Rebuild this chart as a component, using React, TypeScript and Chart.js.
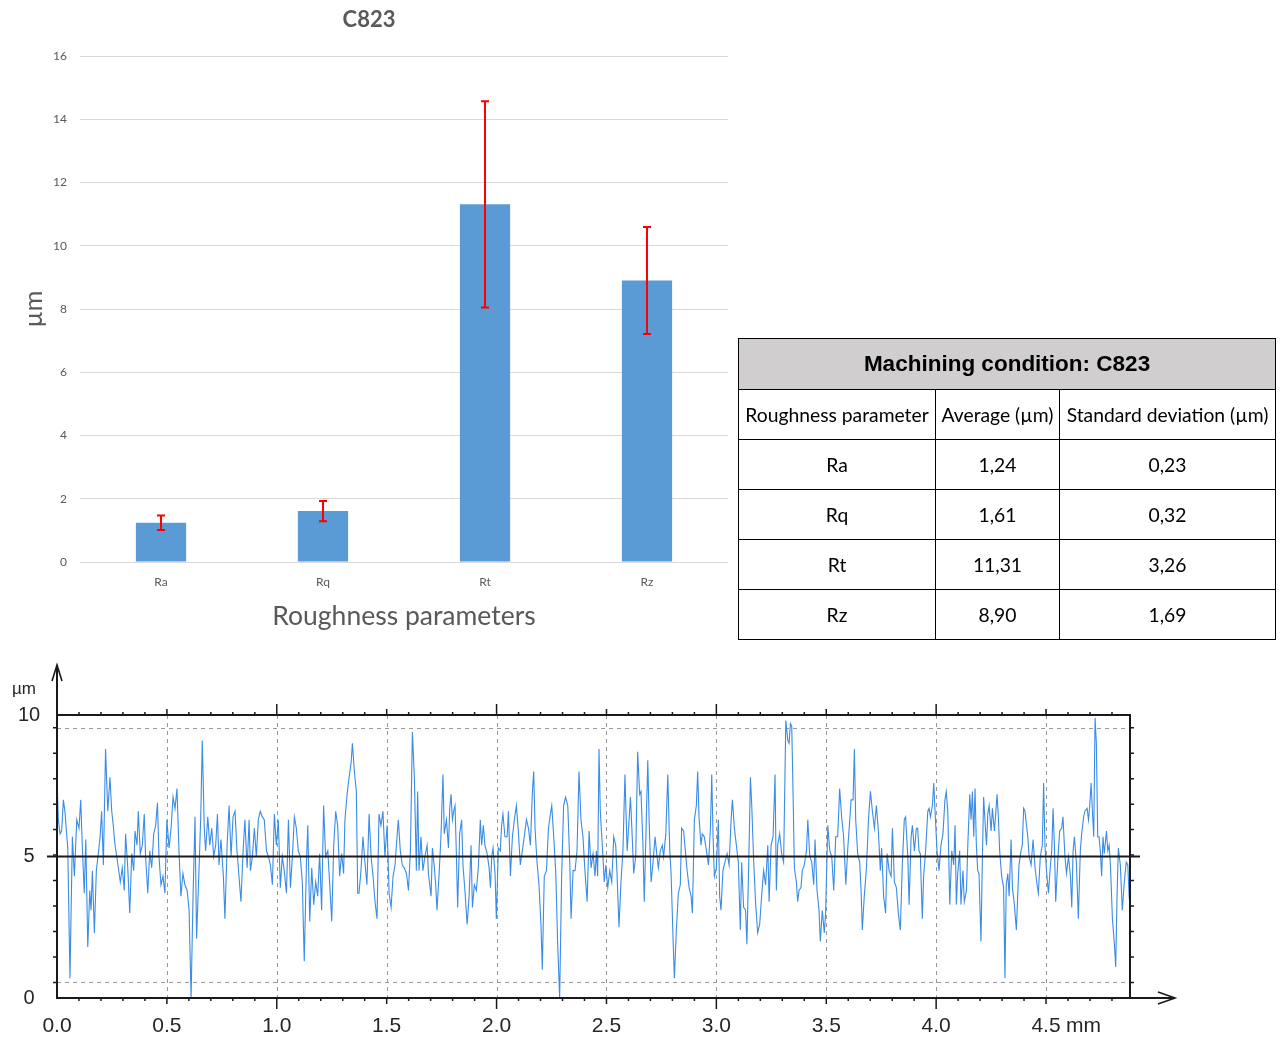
import React, { useEffect, useRef } from 'react';
import { Chart, registerables } from 'chart.js';

Chart.register(...registerables);

// Roughness summary for machining condition C823 (µm)
const conditionName = 'C823';
const parameters = ['Ra', 'Rq', 'Rt', 'Rz'];
const averages = [1.24, 1.61, 11.31, 8.9];
const deviations = [0.23, 0.32, 3.26, 1.69];
const barTicks = [0, 2, 4, 6, 8, 10, 12, 14, 16];

// Measured roughness profile: [position (mm), height (µm)]
const profileLength = 4.882;
const profileTicksX = [0, 0.5, 1.0, 1.5, 2.0, 2.5, 3.0, 3.5, 4.0, 4.5];
const profileTicksY = [0, 5, 10];
const profileMean = 5;
const profileBand = [0.55, 9.55];
const profilePoints: [number, number][] = [
  [0.0, 7.8], [0.006, 6.3], [0.014, 5.8], [0.021, 5.9], [0.029, 7.0], [0.036, 6.6], [0.049, 5.3], [0.059, 0.7],
  [0.07, 5.7], [0.079, 4.3], [0.09, 6.3], [0.1, 6.0], [0.108, 7.0], [0.115, 5.4], [0.124, 3.7], [0.131, 5.6],
  [0.14, 1.8], [0.149, 3.8], [0.155, 3.1], [0.161, 4.5], [0.17, 2.3], [0.179, 4.5], [0.188, 5.1], [0.196, 5.7],
  [0.203, 6.6], [0.211, 4.7], [0.221, 8.8], [0.231, 6.6], [0.241, 7.8], [0.249, 6.6], [0.256, 6.1], [0.264, 5.4],
  [0.272, 5.0], [0.279, 4.6], [0.288, 4.1], [0.297, 4.6], [0.306, 3.8], [0.312, 5.8], [0.322, 4.6], [0.331, 3.0],
  [0.34, 5.1], [0.349, 4.5], [0.355, 5.9], [0.364, 5.4], [0.37, 6.6], [0.379, 5.1], [0.388, 5.4], [0.397, 6.5],
  [0.403, 5.0], [0.413, 3.7], [0.422, 5.2], [0.431, 4.6], [0.44, 5.8], [0.449, 6.1], [0.457, 6.9], [0.464, 5.0],
  [0.473, 4.0], [0.482, 4.3], [0.491, 3.7], [0.5, 6.3], [0.51, 5.3], [0.519, 6.0], [0.528, 7.1], [0.537, 6.7],
  [0.546, 7.4], [0.555, 5.2], [0.564, 3.6], [0.573, 4.4], [0.582, 4.0], [0.592, 3.8], [0.601, 3.1], [0.61, 0.0],
  [0.619, 3.6], [0.628, 6.4], [0.635, 2.1], [0.646, 4.5], [0.654, 6.4], [0.661, 9.1], [0.67, 6.0], [0.676, 5.2],
  [0.686, 6.4], [0.695, 5.4], [0.704, 6.0], [0.713, 5.0], [0.722, 5.4], [0.73, 6.5], [0.737, 4.7], [0.746, 5.6],
  [0.757, 4.3], [0.764, 2.8], [0.774, 5.4], [0.783, 6.8], [0.792, 5.0], [0.801, 6.4], [0.81, 6.6], [0.818, 5.3],
  [0.828, 4.3], [0.837, 3.4], [0.846, 5.1], [0.855, 6.3], [0.865, 4.6], [0.874, 6.3], [0.88, 4.5], [0.889, 5.0],
  [0.898, 6.0], [0.907, 5.0], [0.916, 6.3], [0.925, 6.6], [0.934, 6.4], [0.943, 6.3], [0.953, 5.2], [0.962, 5.0],
  [0.971, 4.7], [0.98, 4.0], [0.989, 6.5], [0.998, 5.4], [1.007, 6.3], [1.016, 3.9], [1.025, 5.0], [1.034, 4.5],
  [1.044, 3.7], [1.053, 6.3], [1.062, 3.9], [1.071, 5.0], [1.08, 6.4], [1.089, 6.0], [1.098, 5.2], [1.107, 5.0],
  [1.116, 4.1], [1.125, 1.3], [1.135, 4.8], [1.141, 6.1], [1.15, 2.7], [1.159, 4.6], [1.168, 3.3], [1.177, 4.1],
  [1.186, 3.6], [1.195, 5.1], [1.204, 3.1], [1.213, 6.8], [1.222, 5.0], [1.232, 5.2], [1.241, 4.0], [1.25, 2.7],
  [1.259, 5.4], [1.268, 6.6], [1.277, 6.1], [1.286, 4.3], [1.295, 5.1], [1.304, 4.4], [1.31, 6.3], [1.32, 7.2],
  [1.329, 7.8], [1.338, 8.3], [1.344, 9.0], [1.353, 8.0], [1.362, 7.3], [1.368, 3.7], [1.374, 3.7], [1.383, 4.5],
  [1.392, 5.7], [1.401, 4.8], [1.41, 4.0], [1.42, 6.5], [1.429, 5.0], [1.438, 4.3], [1.447, 3.4], [1.456, 2.8],
  [1.465, 6.5], [1.474, 6.1], [1.483, 6.6], [1.492, 5.0], [1.502, 6.1], [1.511, 3.7], [1.52, 3.2], [1.529, 4.3],
  [1.538, 4.7], [1.547, 5.7], [1.553, 6.3], [1.562, 5.2], [1.571, 4.7], [1.58, 4.6], [1.59, 4.4], [1.599, 3.8],
  [1.608, 5.2], [1.617, 9.4], [1.626, 7.8], [1.635, 4.5], [1.641, 7.3], [1.647, 4.5], [1.656, 5.7], [1.665, 4.5],
  [1.674, 5.0], [1.684, 5.4], [1.69, 4.4], [1.696, 4.0], [1.702, 3.6], [1.708, 5.3], [1.717, 4.6], [1.723, 4.0],
  [1.729, 3.1], [1.738, 4.3], [1.747, 5.7], [1.756, 7.9], [1.762, 5.8], [1.772, 6.3], [1.781, 5.3], [1.787, 6.7],
  [1.793, 7.2], [1.799, 6.3], [1.805, 6.6], [1.811, 6.8], [1.817, 5.1], [1.823, 3.2], [1.832, 5.8], [1.841, 6.3],
  [1.847, 4.7], [1.856, 3.8], [1.866, 2.6], [1.875, 3.6], [1.884, 5.4], [1.89, 3.2], [1.899, 4.0], [1.908, 3.8],
  [1.917, 4.6], [1.926, 6.3], [1.932, 5.4], [1.94, 6.1], [1.947, 5.4], [1.957, 5.1], [1.966, 4.6], [1.972, 3.9],
  [1.978, 5.0], [1.984, 5.3], [1.993, 4.4], [1.999, 2.8], [2.008, 5.3], [2.017, 5.2], [2.023, 6.1], [2.029, 6.5],
  [2.038, 5.7], [2.048, 5.7], [2.054, 6.6], [2.063, 4.3], [2.072, 5.7], [2.081, 6.3], [2.09, 6.8], [2.099, 5.9],
  [2.108, 4.7], [2.117, 5.2], [2.126, 5.7], [2.136, 6.3], [2.145, 6.0], [2.154, 5.4], [2.163, 7.3], [2.169, 8.0],
  [2.175, 6.0], [2.184, 4.8], [2.193, 4.0], [2.202, 2.6], [2.208, 1.0], [2.217, 4.3], [2.227, 4.5], [2.236, 6.0],
  [2.245, 6.5], [2.251, 6.8], [2.26, 5.7], [2.269, 4.5], [2.278, 1.9], [2.287, 0.0], [2.296, 4.3], [2.305, 6.8],
  [2.314, 7.1], [2.324, 6.8], [2.333, 4.8], [2.339, 2.8], [2.348, 4.5], [2.357, 4.5], [2.366, 5.2], [2.375, 8.0],
  [2.384, 6.3], [2.393, 5.7], [2.402, 4.5], [2.412, 3.4], [2.421, 5.9], [2.43, 4.6], [2.439, 5.1], [2.448, 4.3],
  [2.454, 5.2], [2.46, 4.3], [2.466, 8.8], [2.472, 6.6], [2.481, 5.4], [2.49, 4.1], [2.497, 4.7], [2.506, 3.9],
  [2.515, 4.5], [2.524, 4.1], [2.533, 5.7], [2.542, 5.4], [2.548, 4.4], [2.557, 2.5], [2.566, 4.1], [2.575, 5.2],
  [2.584, 7.9], [2.594, 5.2], [2.6, 5.9], [2.609, 7.1], [2.615, 6.1], [2.624, 4.4], [2.633, 5.0], [2.642, 8.7],
  [2.651, 7.2], [2.657, 7.3], [2.666, 5.4], [2.672, 3.4], [2.678, 5.3], [2.688, 8.4], [2.694, 6.3], [2.703, 4.1],
  [2.712, 4.8], [2.721, 5.7], [2.73, 5.0], [2.736, 4.6], [2.745, 5.2], [2.754, 5.4], [2.76, 5.0], [2.77, 5.8],
  [2.779, 7.9], [2.788, 5.2], [2.794, 4.4], [2.803, 2.1], [2.809, 0.7], [2.818, 2.4], [2.827, 3.7], [2.836, 4.0],
  [2.842, 6.0], [2.851, 5.9], [2.86, 5.1], [2.867, 4.5], [2.876, 3.9], [2.885, 3.6], [2.891, 3.0], [2.9, 6.3],
  [2.909, 6.8], [2.915, 8.0], [2.921, 6.4], [2.93, 5.4], [2.936, 5.8], [2.945, 5.7], [2.955, 5.2], [2.964, 4.7],
  [2.973, 6.0], [2.979, 7.9], [2.985, 5.7], [2.991, 4.3], [3.0, 4.6], [3.009, 6.3], [3.015, 3.6], [3.021, 3.1],
  [3.03, 4.5], [3.039, 4.8], [3.049, 5.1], [3.058, 4.7], [3.067, 6.3], [3.073, 7.0], [3.082, 6.0], [3.091, 5.4],
  [3.1, 4.8], [3.109, 2.4], [3.115, 4.8], [3.124, 3.2], [3.133, 3.1], [3.139, 1.9], [3.149, 5.4], [3.155, 7.8],
  [3.161, 6.8], [3.17, 4.8], [3.179, 3.3], [3.188, 2.3], [3.197, 2.6], [3.206, 3.6], [3.215, 4.5], [3.224, 4.0],
  [3.234, 5.4], [3.24, 3.4], [3.249, 5.4], [3.258, 5.7], [3.267, 7.9], [3.273, 3.8], [3.279, 5.4], [3.288, 5.8],
  [3.297, 5.1], [3.306, 4.8], [3.316, 9.8], [3.325, 9.1], [3.331, 9.0], [3.337, 9.7], [3.343, 9.6], [3.349, 7.2],
  [3.355, 4.6], [3.364, 4.1], [3.37, 3.4], [3.376, 3.8], [3.385, 3.9], [3.391, 4.5], [3.4, 4.7], [3.41, 5.2],
  [3.416, 6.3], [3.425, 5.0], [3.434, 4.8], [3.443, 4.0], [3.449, 5.6], [3.458, 3.8], [3.467, 3.1], [3.473, 2.0],
  [3.482, 3.1], [3.491, 2.3], [3.497, 3.0], [3.507, 6.1], [3.516, 5.2], [3.525, 5.0], [3.534, 3.8], [3.543, 5.7],
  [3.552, 5.7], [3.561, 7.4], [3.57, 6.4], [3.579, 5.7], [3.589, 4.0], [3.598, 5.3], [3.607, 6.3], [3.613, 7.0],
  [3.622, 7.0], [3.628, 8.8], [3.634, 6.3], [3.643, 5.1], [3.652, 4.8], [3.658, 3.9], [3.664, 2.4], [3.673, 3.6],
  [3.683, 4.6], [3.692, 6.3], [3.701, 7.3], [3.71, 6.6], [3.719, 6.0], [3.728, 6.8], [3.737, 5.9], [3.746, 4.5],
  [3.752, 5.3], [3.761, 3.6], [3.77, 3.0], [3.777, 5.1], [3.786, 4.5], [3.795, 4.3], [3.801, 6.0], [3.81, 4.1],
  [3.819, 3.9], [3.828, 3.0], [3.837, 2.4], [3.846, 4.7], [3.855, 6.3], [3.861, 6.4], [3.871, 5.0], [3.877, 3.3],
  [3.886, 5.7], [3.892, 6.1], [3.901, 5.2], [3.91, 6.0], [3.916, 6.0], [3.922, 5.2], [3.928, 5.1], [3.937, 2.8],
  [3.943, 4.3], [3.952, 5.2], [3.962, 6.6], [3.968, 6.7], [3.974, 6.4], [3.983, 6.8], [3.989, 7.6], [3.995, 6.6],
  [4.004, 5.2], [4.013, 4.5], [4.022, 5.4], [4.031, 5.8], [4.04, 7.0], [4.046, 7.3], [4.053, 6.6], [4.062, 3.3],
  [4.071, 5.2], [4.08, 4.7], [4.086, 6.1], [4.092, 3.3], [4.098, 4.4], [4.107, 5.2], [4.113, 3.3], [4.122, 4.5],
  [4.128, 3.4], [4.138, 3.8], [4.144, 5.4], [4.153, 7.2], [4.159, 6.3], [4.165, 7.3], [4.171, 5.7], [4.177, 7.4],
  [4.183, 5.4], [4.189, 4.5], [4.195, 4.4], [4.204, 2.0], [4.21, 4.8], [4.216, 7.1], [4.222, 6.3], [4.229, 5.4],
  [4.235, 6.5], [4.241, 6.8], [4.25, 5.9], [4.256, 6.7], [4.265, 5.9], [4.271, 6.5], [4.277, 7.2], [4.283, 6.4],
  [4.289, 5.2], [4.298, 4.3], [4.307, 3.9], [4.313, 0.7], [4.319, 4.0], [4.326, 4.4], [4.332, 3.6], [4.341, 5.6],
  [4.347, 3.9], [4.356, 3.3], [4.365, 2.4], [4.371, 3.6], [4.377, 4.7], [4.386, 5.2], [4.392, 5.4], [4.398, 6.7],
  [4.404, 6.6], [4.411, 6.1], [4.417, 5.7], [4.423, 5.0], [4.432, 4.7], [4.441, 5.6], [4.45, 4.6], [4.459, 4.0],
  [4.465, 3.7], [4.474, 5.0], [4.483, 5.4], [4.489, 7.6], [4.495, 5.4], [4.502, 4.5], [4.511, 3.7], [4.52, 4.7],
  [4.526, 5.2], [4.532, 6.7], [4.538, 5.4], [4.544, 3.4], [4.553, 4.8], [4.562, 5.9], [4.571, 6.0], [4.577, 6.4],
  [4.586, 5.0], [4.593, 4.4], [4.602, 5.0], [4.611, 4.3], [4.617, 3.2], [4.623, 5.2], [4.629, 5.7], [4.638, 4.8],
  [4.647, 2.8], [4.656, 5.2], [4.662, 5.8], [4.671, 6.4], [4.677, 6.6], [4.687, 6.7], [4.693, 6.3], [4.699, 6.8],
  [4.705, 7.6], [4.711, 6.6], [4.717, 5.7], [4.723, 9.9], [4.729, 9.0], [4.735, 5.7], [4.741, 5.7], [4.747, 5.2],
  [4.753, 4.3], [4.759, 5.7], [4.765, 5.1], [4.775, 5.9], [4.781, 5.2], [4.787, 5.4], [4.793, 4.7], [4.802, 2.8],
  [4.811, 1.9], [4.817, 1.1], [4.823, 3.6], [4.829, 5.3], [4.838, 4.7], [4.847, 3.1], [4.856, 4.1], [4.865, 4.8],
  [4.872, 4.7], [4.878, 3.6], [4.882, 3.2],
];

const formatComma = (v: number) => v.toFixed(2).replace('.', ',');

const errorBarsPlugin = {
  id: 'errorBars',
  afterDatasetsDraw(chart: any) {
    const { ctx } = chart;
    const yScale = chart.scales.y;
    const meta = chart.getDatasetMeta(0);
    ctx.save();
    ctx.strokeStyle = '#ff0000';
    ctx.lineWidth = 2;
    meta.data.forEach((bar: any, i: number) => {
      const yHigh = yScale.getPixelForValue(averages[i] + deviations[i]);
      const yLow = yScale.getPixelForValue(averages[i] - deviations[i]);
      const x = Math.round(bar.x);
      ctx.beginPath();
      ctx.moveTo(x, yHigh);
      ctx.lineTo(x, yLow);
      ctx.moveTo(x - 4, yHigh);
      ctx.lineTo(x + 4, yHigh);
      ctx.moveTo(x - 4, yLow);
      ctx.lineTo(x + 4, yLow);
      ctx.stroke();
    });
    ctx.restore();
  },
};

const profileFramePlugin = {
  id: 'profileFrame',
  beforeDatasetsDraw(chart: any) {
    const { ctx, chartArea } = chart;
    const { left, right, top, bottom } = chartArea;
    const xs = chart.scales.x;
    const ys = chart.scales.y;
    ctx.save();
    ctx.strokeStyle = '#9a9a9a';
    ctx.lineWidth = 1;
    ctx.setLineDash([4, 4]);
    profileTicksX.slice(1).forEach((v) => {
      const x = Math.round(xs.getPixelForValue(v)) + 0.5;
      ctx.beginPath();
      ctx.moveTo(x, top);
      ctx.lineTo(x, bottom);
      ctx.stroke();
    });
    profileBand.forEach((v) => {
      const y = Math.round(ys.getPixelForValue(v)) + 0.5;
      ctx.beginPath();
      ctx.moveTo(left, y);
      ctx.lineTo(right, y);
      ctx.stroke();
    });
    ctx.restore();
  },
  afterDatasetsDraw(chart: any) {
    const { ctx, chartArea } = chart;
    const { left, right, top, bottom } = chartArea;
    const xs = chart.scales.x;
    const ys = chart.scales.y;
    ctx.save();
    ctx.strokeStyle = '#1a1a1a';
    ctx.fillStyle = '#1a1a1a';
    ctx.lineWidth = 2;
    ctx.setLineDash([]);

    // mean line
    const yMean = ys.getPixelForValue(profileMean);
    ctx.beginPath();
    ctx.moveTo(left - 10, yMean);
    ctx.lineTo(right + 10, yMean);
    ctx.stroke();

    // frame and axes
    ctx.beginPath();
    ctx.moveTo(left, top);
    ctx.lineTo(right, top);
    ctx.lineTo(right, bottom);
    ctx.moveTo(left, top - 50);
    ctx.lineTo(left, bottom);
    ctx.lineTo(right + 45, bottom);
    ctx.stroke();

    // arrow heads
    ctx.lineWidth = 1.6;
    ctx.beginPath();
    ctx.moveTo(left - 5, top - 34);
    ctx.lineTo(left, top - 50);
    ctx.lineTo(left + 5, top - 34);
    ctx.moveTo(right + 28, bottom - 6);
    ctx.lineTo(right + 45, bottom);
    ctx.lineTo(right + 28, bottom + 6);
    ctx.stroke();

    // x ticks every 0.1 mm
    ctx.lineWidth = 1.5;
    for (let k = 1; k <= 48; k++) {
      const v = k / 10;
      const x = xs.getPixelForValue(v);
      const len = k % 10 === 0 ? 11 : k % 5 === 0 ? 6 : 3;
      ctx.beginPath();
      ctx.moveTo(x, top - len);
      ctx.lineTo(x, top + 1);
      ctx.moveTo(x, bottom - 1);
      ctx.lineTo(x, bottom + len);
      ctx.stroke();
    }
    // y ticks across the band
    for (let k = 0; k <= 10; k++) {
      const v = profileBand[0] + ((profileBand[1] - profileBand[0]) * k) / 10;
      const y = ys.getPixelForValue(v);
      ctx.beginPath();
      ctx.moveTo(left - 4, y);
      ctx.lineTo(left, y);
      ctx.moveTo(right, y);
      ctx.lineTo(right + 4, y);
      ctx.stroke();
    }

    // labels
    ctx.fillStyle = '#262626';
    ctx.textBaseline = 'middle';
    ctx.textAlign = 'center';
    ctx.font = '21px "Liberation Sans", Arial, sans-serif';
    profileTicksX.forEach((v, i) => {
      const x = xs.getPixelForValue(v);
      ctx.textAlign = 'center';
      ctx.fillText(v.toFixed(1), x, bottom + 28);
      if (i === profileTicksX.length - 1) {
        ctx.textAlign = 'left';
        ctx.fillText('mm', x + 20, bottom + 28);
      }
    });
    ctx.textAlign = 'center';
    ctx.font = '20px "Liberation Sans", Arial, sans-serif';
    profileTicksY.forEach((v) => {
      ctx.fillText(String(v), 29, ys.getPixelForValue(v));
    });
    ctx.font = '17px "Liberation Sans", Arial, sans-serif';
    ctx.fillText('µm', 24, top - 26);
    ctx.restore();
  },
};

function BarChart() {
  const ref = useRef<HTMLCanvasElement>(null);
  useEffect(() => {
    if (!ref.current) return;
    const chart = new Chart(ref.current, {
      type: 'bar',
      data: {
        labels: parameters,
        datasets: [
          {
            data: averages,
            backgroundColor: '#5b9bd5',
            barPercentage: 0.31,
            categoryPercentage: 1,
          },
        ],
      },
      options: {
        animation: false,
        responsive: false,
        maintainAspectRatio: false,
        layout: { padding: { left: 10, right: 12, top: 0, bottom: 0 } },
        plugins: {
          legend: { display: false },
          tooltip: { enabled: false },
          title: {
            display: true,
            text: conditionName,
            color: '#595959',
            font: { family: 'Lato', size: 22, weight: 'bold', lineHeight: 1.2 },
            padding: { top: 7, bottom: 22.6 },
          },
        },
        scales: {
          x: {
            grid: { display: false },
            border: { display: false },
            ticks: { color: '#595959', font: { family: 'Lato', size: 12 }, padding: 5 },
            title: {
              display: true,
              text: 'Roughness parameters',
              color: '#595959',
              font: { family: 'Lato', size: 26.5, lineHeight: 1.2 },
              padding: { top: 0, bottom: 18 },
            },
            afterFit: (s: any) => {
              s.height = 88;
            },
          },
          y: {
            min: 0,
            max: 16,
            afterBuildTicks: (s: any) => {
              s.ticks = barTicks.map((v) => ({ value: v }));
            },
            ticks: { color: '#595959', font: { family: 'Lato', size: 12 }, padding: 13 },
            grid: { color: '#d9d9d9', drawTicks: false, lineWidth: 1 },
            border: { display: false },
            title: {
              display: true,
              text: 'µm',
              color: '#595959',
              font: { family: 'Lato', size: 25, lineHeight: 1.2 },
              padding: { top: 8.6, bottom: 0 },
            },
            afterFit: (s: any) => {
              s.width = 70;
            },
          },
        },
      },
      plugins: [errorBarsPlugin],
    });
    return () => chart.destroy();
  }, []);
  return (
    <canvas
      ref={ref}
      width={740}
      height={650}
      style={{ position: 'absolute', left: 0, top: 0, width: 740, height: 650 }}
    />
  );
}

function ProfileChart() {
  const ref = useRef<HTMLCanvasElement>(null);
  useEffect(() => {
    if (!ref.current) return;
    const chart = new Chart(ref.current, {
      type: 'line',
      data: {
        datasets: [
          {
            data: profilePoints.map(([x, y]) => ({ x, y })),
            borderColor: '#3a8ce6',
            borderWidth: 1.1,
            pointRadius: 0,
            tension: 0,
            fill: false,
          },
        ],
      },
      options: {
        animation: false,
        responsive: false,
        maintainAspectRatio: false,
        layout: { padding: { left: 57, top: 65, right: 152, bottom: 41 } },
        plugins: { legend: { display: false }, tooltip: { enabled: false } },
        scales: {
          x: { type: 'linear', min: 0, max: profileLength, display: false },
          y: { min: 0, max: 10, display: false },
        },
      },
      plugins: [profileFramePlugin],
    });
    return () => chart.destroy();
  }, []);
  return (
    <canvas
      ref={ref}
      width={1282}
      height={389}
      style={{ position: 'absolute', left: 0, top: 650, width: 1282, height: 389 }}
    />
  );
}

function SummaryTable() {
  const cell: React.CSSProperties = {
    border: '1px solid #000',
    textAlign: 'center',
    padding: 0,
    height: 49,
    whiteSpace: 'nowrap',
    overflow: 'visible',
  };
  return (
    <table
      style={{
        position: 'absolute',
        left: 738,
        top: 338,
        width: 537,
        borderCollapse: 'collapse',
        tableLayout: 'fixed',
        fontFamily: 'Lato, "Open Sans", sans-serif',
        fontSize: 19.3,
        color: '#000',
      }}
    >
      <colgroup>
        <col style={{ width: 197 }} />
        <col style={{ width: 124 }} />
        <col style={{ width: 216 }} />
      </colgroup>
      <tbody>
        <tr>
          <td
            colSpan={3}
            style={{
              ...cell,
              height: 50,
              background: '#d0cece',
              fontFamily: '"Liberation Sans", Arial, sans-serif',
              fontWeight: 'bold',
              fontSize: 22.5,
            }}
          >
            Machining condition: {conditionName}
          </td>
        </tr>
        <tr>
          <td style={cell}>Roughness parameter</td>
          <td style={cell}>Average (µm)</td>
          <td style={cell}>Standard deviation (µm)</td>
        </tr>
        {parameters.map((p, i) => (
          <tr key={p}>
            <td style={cell}>{p}</td>
            <td style={cell}>{formatComma(averages[i])}</td>
            <td style={cell}>{formatComma(deviations[i])}</td>
          </tr>
        ))}
      </tbody>
    </table>
  );
}

export default function App() {
  return (
    <div
      style={{
        position: 'absolute',
        left: 0,
        top: 0,
        width: 1282,
        height: 1039,
        background: '#fff',
        overflow: 'hidden',
      }}
    >
      <BarChart />
      <SummaryTable />
      <ProfileChart />
    </div>
  );
}
